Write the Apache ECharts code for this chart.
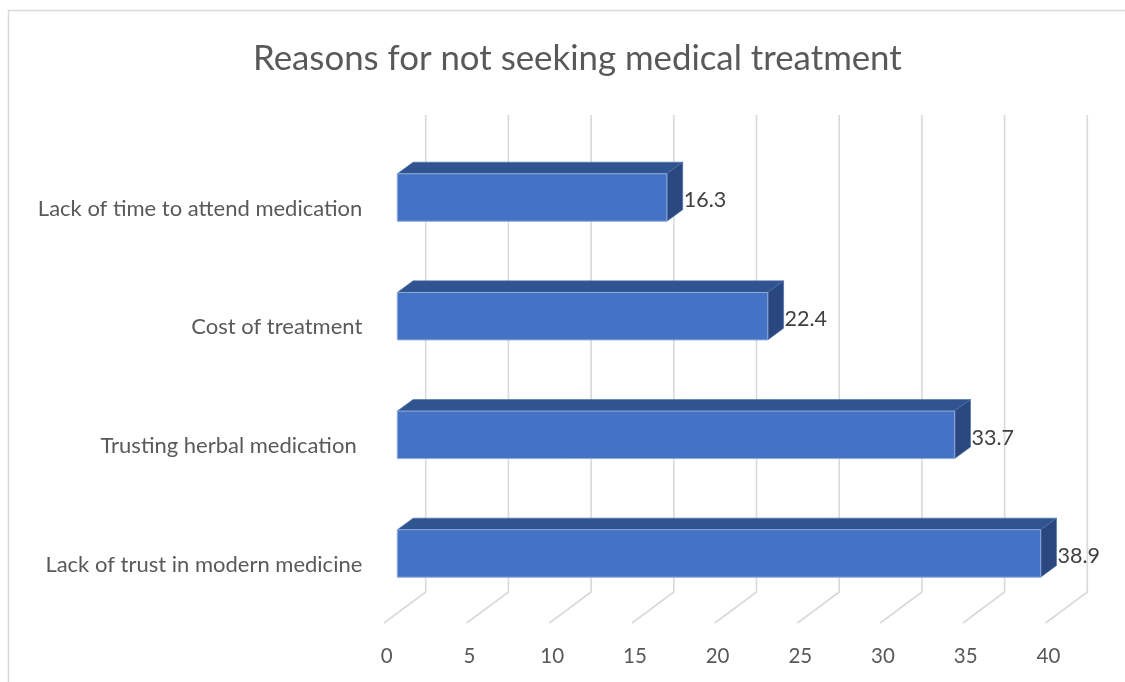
<!DOCTYPE html>
<html>
<head>
<meta charset="utf-8">
<title>Reasons for not seeking medical treatment</title>
<script src="https://cdn.jsdelivr.net/npm/echarts@6/dist/echarts.min.js"></script>
<style>
  html, body { margin: 0; padding: 0; background: #ffffff; }
  #chart { width: 1125px; height: 682px; }
</style>
</head>
<body>
<div id="chart"></div>
<script>
// Reasons, listed bottom to top as they appear on the category axis
const categories = [
  'Lack of trust in modern medicine',
  'Trusting herbal medication ',
  'Cost of treatment',
  'Lack of time to attend medication'
];
const values = [38.9, 33.7, 22.4, 16.3];
const tickValues = [0, 5, 10, 15, 20, 25, 30, 35, 40];

// Pseudo-3D geometry (pixels)
const BAR_DX = 15.8, BAR_DY = -11.6;      // depth of each bar
const WALL_DX = 28.4;                     // back wall offset from bar front plane
const FLOOR_DX = -13.3;                   // front edge of floor from bar front plane
const FLOOR_FRONT_Y = 623, FLOOR_BACK_Y = 592, WALL_TOP_Y = 115;

const FONT = 'Lato, "Open Sans", sans-serif';

const chart = echarts.init(document.getElementById('chart'), null, { renderer: 'canvas' });

const option = {
  backgroundColor: '#ffffff',
  animation: false,
  title: {
    text: 'Reasons for not seeking medical treatment',
    left: 248,
    top: 36,
    textStyle: { fontFamily: FONT, fontSize: 34.8, fontWeight: 'normal', color: '#595959' }
  },
  graphic: [{
    type: 'rect',
    z: -10,
    shape: { x: 8.5, y: 10.5, width: 1300, height: 800 },
    style: { fill: 'none', stroke: '#d9d9d9', lineWidth: 1.5 }
  }],
  grid: { left: 397.3, right: 66.1, top: 138.2, bottom: 69.2, containLabel: false },
  xAxis: {
    type: 'value',
    min: 0, max: 40, interval: 5,
    axisLine: { show: false },
    axisTick: { show: false },
    splitLine: { show: false },
    axisLabel: {
      margin: 33,
      padding: [0, 21, 0, 0],
      fontFamily: FONT, fontSize: 20.5, color: '#595959'
    }
  },
  yAxis: {
    type: 'category',
    data: categories,
    axisLine: { show: false },
    axisTick: { show: false },
    splitLine: { show: false },
    axisLabel: {
      margin: 35,
      verticalAlign: 'top',
      lineHeight: 22,
      fontFamily: FONT, fontSize: 22, color: '#595959'
    }
  },
  series: [
    {
      // back wall gridlines with their floor diagonals
      type: 'custom',
      z: 1,
      silent: true,
      data: tickValues.map(v => [v]),
      encode: { x: 0 },
      renderItem: function (params, api) {
        const x = api.coord([api.value(0), 0])[0];
        return {
          type: 'polyline',
          shape: {
            points: [
              [x + FLOOR_DX, FLOOR_FRONT_Y],
              [x + WALL_DX, FLOOR_BACK_Y],
              [x + WALL_DX, WALL_TOP_Y]
            ]
          },
          style: { fill: 'none', stroke: '#d9d9d9', lineWidth: 1.6 }
        };
      }
    },
    {
      // 3D bars: front face, top face, right face, value label
      type: 'custom',
      z: 2,
      data: values.map((v, i) => [v, i]),
      encode: { x: 0, y: 1 },
      renderItem: function (params, api) {
        const v = api.value(0);
        const ci = api.value(1);
        const p0 = api.coord([0, ci]);
        const p1 = api.coord([v, ci]);
        const h = api.size([0, 1])[1] * 0.4;
        const x0 = p0[0], x1 = p1[0];
        const yt = p0[1] - h / 2, yb = p0[1] + h / 2;
        return {
          type: 'group',
          children: [
            {
              type: 'polygon',
              shape: { points: [[x0, yt], [x1, yt], [x1 + BAR_DX, yt + BAR_DY], [x0 + BAR_DX, yt + BAR_DY]] },
              style: { fill: '#30548f', stroke: '#4a6fb0', lineWidth: 0.6 }
            },
            {
              type: 'polygon',
              shape: { points: [[x1, yt], [x1 + BAR_DX, yt + BAR_DY], [x1 + BAR_DX, yb + BAR_DY], [x1, yb]] },
              style: { fill: '#2a4780', stroke: '#4a6fb0', lineWidth: 0.6 }
            },
            {
              type: 'rect',
              shape: { x: x0, y: yt, width: x1 - x0, height: h },
              style: { fill: '#4472c4', stroke: '#8faadc', lineWidth: 1 }
            },
            {
              type: 'text',
              style: {
                text: String(v),
                x: x1 + BAR_DX + 1,
                y: p0[1] + 3,
                align: 'left',
                verticalAlign: 'middle',
                fontFamily: FONT,
                fontSize: 21.5,
                fill: '#404040'
              }
            }
          ]
        };
      }
    }
  ]
};

chart.setOption(option);
</script>
</body>
</html>
